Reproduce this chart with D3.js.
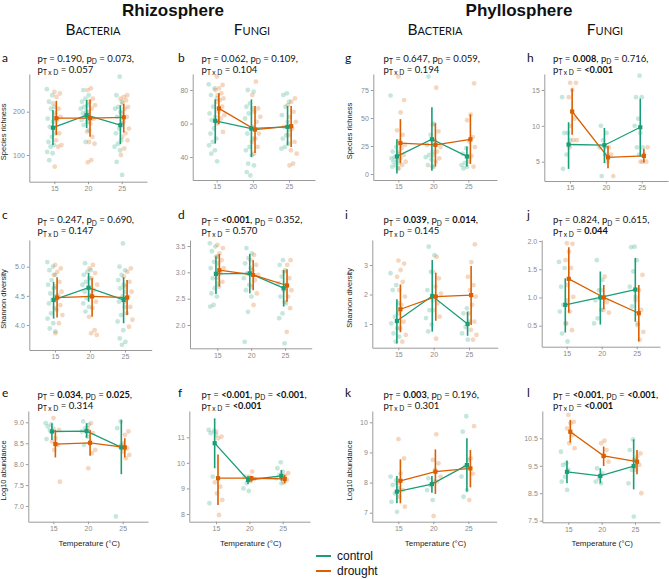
<!DOCTYPE html>
<html><head><meta charset="utf-8">
<script src="https://cdn.jsdelivr.net/npm/d3@7"></script>
<style>body{margin:0;background:#fff}</style>
</head><body>
<svg id="chart" width="669" height="579"></svg>
<script>
const temps = [15, 20, 25];
const groupNames = ["control", "drought"];
const groupColors = ["#1b9e77", "#d95f02"];

// ---- a: Rhizosphere bacteria, species richness
const aMean = [[163,192,169],[185,185,187]];
const aLow  = [[123,162,125],[146,142,152]];
const aHigh = [[204,227,215],[225,228,218]];
const aPoints = [
 [[252,238,223,211,207,184,177,165,150,142,130,123,119,107,104,88],
  [250,238,230,223,215,211,207,200,196,192,188,181,177,169,157,130],
  [281,238,223,211,207,200,188,173,161,150,134,126,119,111,84,54]],
 [[246,242,234,219,207,196,188,181,161,150,134,123,119,73],
  [254,250,230,223,215,207,200,184,173,154,142,130,126,88,83],
  [238,234,230,226,219,211,207,196,188,177,161,150,142,134,115,100]]];
const aTicks = [100, 200];
const aP = [["0.190",0],["0.073",0],["0.057",0]];

// ---- b: Rhizosphere fungi, species richness
const bMean = [[61.6,57,58],[69,56.4,58.4]];
const bLow  = [[48,40,47],[59.6,42.4,46]];
const bHigh = [[74.4,74.4,70.4],[78,70.4,70.4]];
const bPoints = [
 [[83.4,81,77,75,70,66,64,62,61,57,54,51,49,47,44,42,37.4],
  [80,79,72,70,69,66,63,57,54,51,46,44,41,36,35,29,31],
  [78,77,73,70,65,61,58,56,53,51,48,46,45]],
 [[88,83,81,80,78,77,75,74,73,70,67,65,63,60,55],
  [85,77,69,67,64,61,58,54,51,49,46,42],
  [75,73,71,67,64,61,57,53,49,44,42,36,35]]];
const bTicks = [40, 60, 80];
const bP = [["0.062",0],["0.109",0],["0.104",0]];

// ---- c: Rhizosphere bacteria, Shannon diversity
const cMean = [[4.43,4.64,4.43],[4.47,4.49,4.47]];
const cLow  = [[4.11,4.4,4.03],[4.13,4.14,4.17]];
const cHigh = [[4.74,4.89,4.82],[4.82,4.8,4.77]];
const cPoints = [
 [[5.08,5.0,4.94,4.86,4.77,4.69,4.63,4.54,4.49,4.43,4.37,4.29,4.2,4.11,4.03,3.94,3.89],
  [5.06,4.94,4.91,4.86,4.8,4.74,4.69,4.63,4.57,4.51,4.46,4.37,4.31,4.23],
  [5.4,5.0,4.94,4.86,4.77,4.69,4.63,4.57,4.49,4.4,4.31,4.17,4.06,3.91,3.77,3.71,3.66]],
 [[5.03,4.97,4.91,4.86,4.74,4.66,4.57,4.51,4.43,4.34,4.26,4.17,4.03,3.86],
  [5.03,4.97,4.89,4.8,4.69,4.6,4.49,4.4,4.29,4.14,3.91,3.86,3.83],
  [4.97,4.91,4.83,4.74,4.66,4.57,4.49,4.4,4.31,4.2,4.09,3.97]]];
const cTicks = [4.0, 4.5, 5.0];
const cP = [["0.247",0],["0.690",0],["0.147",0]];

// ---- d: Rhizosphere fungi, Shannon diversity
const dMean = [[2.97,2.98,2.7],[3.04,2.95,2.75]];
const dLow  = [[2.59,2.6,2.35],[2.73,2.66,2.44]];
const dHigh = [[3.3,3.35,3.04],[3.35,3.23,3.06]];
const dPoints = [
 [[3.55,3.49,3.4,3.3,3.2,3.08,2.98,2.89,2.79,2.7,2.6,2.54,2.38,2.35],
  [3.46,3.36,3.27,3.17,3.08,2.98,2.89,2.76,2.66,2.54,2.25,1.68],
  [3.23,3.14,3.04,2.92,2.79,2.66,2.54,2.41,2.22,2.13,1.65]],
 [[3.52,3.46,3.36,3.3,3.23,3.17,3.08,2.98,2.89,2.82,2.73],
  [3.33,3.23,3.14,3.04,2.95,2.85,2.73,2.6,2.38],
  [3.23,3.14,3.01,2.89,2.76,2.66,2.54,2.44,2.32,1.87]]];
const dTicks = [2.0, 2.5, 3.0, 3.5];
const dP = [["<0.001",1],["0.352",0],["0.570",0]];

// ---- e: Rhizosphere bacteria, Log10 abundance
const eMean = [[8.78,8.79,8.4],[8.48,8.51,8.4]];
const eLow  = [[8.58,8.63,7.76],[8.16,8.2,8.16]];
const eHigh = [[8.98,8.98,9.06],[8.82,8.82,8.62]];
const ePoints = [
 [[8.98,8.95,8.9,8.85,8.8,8.6],
  [9.02,8.94,8.86,8.78,8.66,8.46],
  [9.02,8.86,8.5,8.42,6.75]],
 [[9.1,8.82,8.62,8.54,8.46,8.34,7.58],
  [8.98,8.86,8.74,8.5,8.34,8.26,7.9],
  [8.78,8.7,8.46,8.38,8.3,8.22,8.14]]];
const eTicks = [7.0, 7.5, 8.0, 8.5, 9.0];
const eP = [["0.034",1],["0.025",1],["0.314",0]];

// ---- f: Rhizosphere fungi, Log10 abundance
const fMean = [[10.77,9.33,9.49],[9.4,9.4,9.37]];
const fLow  = [[9.79,9.17,9.3],[8.35,9.27,9.2]];
const fHigh = [[11.74,9.49,9.72],[10.33,9.49,9.53]];
const fPoints = [
 [[11.29,11.25,11.16,11.1,9.46,8.42],
  [9.46,9.33,9.2,9.0,8.9],
  [10.02,9.79,9.66,9.53,9.4,9.2]],
 [[11.22,11.03,10.96,9.24,9.07,8.81,8.55,7.96],
  [9.66,9.46,9.37,9.29],
  [9.6,9.5,9.4,9.33,9.24]]];
const fTicks = [8, 9, 10, 11];
const fP = [["<0.001",1],["<0.001",1],["<0.001",1]];

// ---- g: Phyllosphere bacteria, species richness
const gMean = [[15.7,31,15.7],[27.5,26,31]];
const gLow  = [[0.5,3,6.7],[9.7,6.7,9]];
const gHigh = [[31,59.6,24.6],[49,45.3,53.3]];
const gPoints = [
 [[70,24,20,18,15,14,12,11,9.5,8,6.5,5],
  [87,45,35,26,20,17,15,13,8,6.5],
  [23,18,15,10,8,6.5,5]],
 [[87,66,55,39,35,29,26,23,20,17,14,11,8,5],
  [77,44,38,30,24,20,17,14,11,6.5],
  [81,53,48,33,29,24,16,11,6.5]]];
const gTicks = [0, 25, 50, 75];
const gP = [["0.647",0],["0.059",0],["0.194",0]];

// ---- h: Phyllosphere fungi, species richness
const hMean = [[7.4,7.3,9.8],[12,5.6,5.8]];
const hLow  = [[4,4.8,5.7],[8.75,4.1,4.9]];
const hHigh = [[10.5,9.7,13.8],[15.2,7.2,6.8]];
const hPoints = [
 [[14,9,9,8,6,4],
  [10,9,8,7,6,3],
  [17,14,14,11,10,9,7,7,6]],
 [[16,16,15,14,11,10,8,8,7],
  [7,7,6,5,3],
  [7,6,5,5,5]]];
const hTicks = [5, 10, 15];
const hP = [["0.008",1],["0.716",0],["<0.001",1]];

// ---- i: Phyllosphere bacteria, Shannon diversity
const iMean = [[1.1,1.95,1.0],[1.5,1.93,1.98]];
const iLow  = [[0.34,0.74,0.6],[0.72,1.11,0.97]];
const iHigh = [[1.84,3.17,1.42],[2.34,2.74,2.97]];
const iPoints = [
 [[2.72,2.32,2.15,1.7,1.25,1.02,0.85,0.68,0.57,0.4],
  [3.62,3.33,2.77,2.15,1.8,1.47,1.2,0.98,0.75],
  [1.53,1.36,1.08,0.9,0.68,0.47]],
 [[3.15,3.05,2.83,2.6,2.43,2.15,1.93,1.65,1.36,1.08,0.85,0.63,0.4],
  [3.28,2.77,2.55,2.27,2.03,1.7,1.47,1.25,0.5],
  [3.7,3.1,2.6,2.32,2.15,1.93,1.65,1.36,1.08,0.8,0.63,0.47]]];
const iTicks = [1, 2, 3];
const iP = [["0.039",1],["0.014",1],["0.145",0]];

// ---- j: Phyllosphere fungi, Shannon diversity
const jMean = [[0.87,1.0,1.14],[1.33,1.0,0.72]];
const jLow  = [[0.38,0.52,0.57],[0.73,0.79,0.22]];
const jHigh = [[1.34,1.46,1.7],[1.89,1.22,1.22]];
const jPoints = [
 [[1.63,1.52,1.19,0.95,0.87,0.75,0.54,0.36,0.22],
  [1.66,1.31,1.13,0.95,0.78,0.63,0.54],
  [1.9,1.89,1.66,1.46,1.19,1.01,0.84,0.51]],
 [[1.96,1.95,1.81,1.66,1.52,1.22,1.01,0.75,0.54,0.42],
  [1.37,1.13,0.92,0.78,0.73],
  [1.4,1.13,0.95,0.78,0.54,0.39,0.25]]];
const jTicks = [0.5, 1.0, 1.5, 2.0];
const jP = [["0.824",0],["0.615",0],["0.044",1]];

// ---- k: Phyllosphere bacteria, Log10 abundance
const kMean = [[7.7,7.95,8.58],[8.06,8.36,8.47]];
const kLow  = [[7.31,7.66,7.7],[7.31,7.62,7.84]];
const kHigh = [[8.22,8.22,9.47],[8.77,9.1,9.08]];
const kPoints = [
 [[8.2,8.08,7.92,7.81,7.64,7.36,7.03],
  [8.14,8.03,7.92,7.75,7.42],
  [10.2,9.69,8.75,8.53,8.2,7.75,7.53]],
 [[9.44,8.8,8.3,7.97,7.75,7.53,7.2],
  [9.6,8.75,8.64,8.42,8.2,8.03,6.89],
  [9.87,8.8,8.53,8.3,7.42]]];
const kTicks = [7, 8, 9, 10];
const kP = [["0.003",1],["0.196",0],["0.301",0]];

// ---- l: Phyllosphere fungi, Log10 abundance
const lMean = [[9.28,9.13,9.49],[10.74,9.86,9.65]];
const lLow  = [[8.86,8.86,8.64],[10.34,9.49,9.19]];
const lHigh = [[9.69,9.41,10.46],[11.17,10.2,10.07]];
const lPoints = [
 [[10.01,9.59,9.53,9.35,9.1,8.92,8.62],
  [9.41,9.22,9.04,8.92,8.86],
  [10.46,10.07,9.71,9.35,8.86,7.65]],
 [[11.35,11.1,11.05,10.86,10.62,10.32,10.14],
  [10.41,10.32,10.07,9.83,9.65],
  [9.95,9.83,9.71,9.53,9.35,8.5]]];
const lTicks = [7.5, 8.5, 9.5, 10.5];
const lP = [["<0.001",1],["<0.001",1],["<0.001",1]];

const yTitles = ["Species richness", "Shannon diversity", "Log10 abundance"];
const xTitle = "Temperature (°C)";
const compTitles = ["Rhizosphere", "Phyllosphere"];
const kingdomTitles = ["Bacteria", "Fungi", "Bacteria", "Fungi"];

// ---------------- layout (pixel geometry) ----------------
const panels = [
 {id:"a",row:0,col:0,mean:aMean,lo:aLow,hi:aHigh,pts:aPoints,ticks:aTicks,p:aP,fmt:"d",  x0:29.3,x1:147, xt:[54.3,121.7],yb:181.7,yt:74,yp:[[200,111.7],[100,155]]},
 {id:"b",row:0,col:1,mean:bMean,lo:bLow,hi:bHigh,pts:bPoints,ticks:bTicks,p:bP,fmt:"d",  x0:192.7,x1:315,xt:[216.7,289],yb:180,yt:74,yp:[[80,90],[40,157]]},
 {id:"g",row:0,col:2,mean:gMean,lo:gLow,hi:gHigh,pts:gPoints,ticks:gTicks,p:gP,fmt:"d",  x0:373.3,x1:497,xt:[398.3,468.3],yb:180,yt:74,yp:[[75,90],[0,174]]},
 {id:"h",row:0,col:3,mean:hMean,lo:hLow,hi:hHigh,pts:hPoints,ticks:hTicks,p:hP,fmt:"d",  x0:544.3,x1:668,xt:[570,641.7],yb:181,yt:74,yp:[[15,90],[5,161.7]]},
 {id:"c",row:1,col:0,mean:cMean,lo:cLow,hi:cHigh,pts:cPoints,ticks:cTicks,p:cP,fmt:".1f",x0:29.3,x1:151.7,xt:[55,125],yb:350,yt:240,yp:[[5,266.7],[4,325]]},
 {id:"d",row:1,col:1,mean:dMean,lo:dLow,hi:dHigh,pts:dPoints,ticks:dTicks,p:dP,fmt:".1f",x0:190,x1:311.7,xt:[217.3,285],yb:348.3,yt:240,yp:[[3.5,246],[2,325]]},
 {id:"i",row:1,col:2,mean:iMean,lo:iLow,hi:iHigh,pts:iPoints,ticks:iTicks,p:iP,fmt:"d",  x0:372.3,x1:497.7,xt:[398.3,469],yb:347.7,yt:240,yp:[[3,265],[1,324]]},
 {id:"j",row:1,col:3,mean:jMean,lo:jLow,hi:jHigh,pts:jPoints,ticks:jTicks,p:jP,fmt:".1f",x0:541.7,x1:660,xt:[566.7,636.7],yb:346.7,yt:240,yp:[[2,241],[0.5,325.7]]},
 {id:"e",row:2,col:0,mean:eMean,lo:eLow,hi:eHigh,pts:ePoints,ticks:eTicks,p:eP,fmt:".1f",x0:28.3,x1:148,xt:[53.3,122.7],yb:521.7,yt:411,yp:[[9,422.3],[7,506]]},
 {id:"f",row:2,col:1,mean:fMean,lo:fLow,hi:fHigh,pts:fPoints,ticks:fTicks,p:fP,fmt:"d",  x0:189.3,x1:310,xt:[216,282.7],yb:521.7,yt:411,yp:[[11,437.3],[8,514]]},
 {id:"k",row:2,col:2,mean:kMean,lo:kLow,hi:kHigh,pts:kPoints,ticks:kTicks,p:kP,fmt:"d",  x0:372.3,x1:496.7,xt:[398.3,468.3],yb:521.7,yt:411,yp:[[10,422.3],[7,512.7]]},
 {id:"l",row:2,col:3,mean:lMean,lo:lLow,hi:lHigh,pts:lPoints,ticks:lTicks,p:lP,fmt:".1f",x0:542.3,x1:660,xt:[568.3,635],yb:522.3,yt:411,yp:[[10.5,438.3],[7.5,520.7]]}
];
const letterX = [2, 178, 345, 527];
const pTextX = [37.5, 201.5, 383.5, 553];
const rowText = [{l:61.5, b1:61.5, b2:72.6}, {l:218.5, b1:223.3, b2:234.3}, {l:396.5, b1:397.5, b2:408.6}];
const yTitleX = [6, null, 352, null];

const svg = d3.select("#chart");
const FONT_CAL = "Lato, 'Open Sans', sans-serif";
const FONT_AR = "'Liberation Sans', Arial, sans-serif";

// titles
[[173, 0], [519, 1]].forEach(([x, k]) => {
  svg.append("text").attr("x", x).attr("y", 15.6).attr("text-anchor", "middle")
    .attr("font-family", FONT_AR).attr("font-weight", "bold").attr("font-size", 17)
    .attr("fill", "#111").text(compTitles[k]);
});
[93, 252, 435, 605].forEach((x, k) => {
  svg.append("text").attr("x", x).attr("y", 34.5).attr("text-anchor", "middle")
    .attr("font-family", FONT_CAL).attr("font-size", 15.5).attr("font-variant", "small-caps")
    .attr("fill", "#111").text(kingdomTitles[k]);
});

function pLine(text, parts) {
  parts.forEach(pt => {
    const ts = text.append("tspan").text(pt.t);
    if (pt.dy) ts.attr("dy", pt.dy);
    if (pt.sub) ts.attr("font-size", 6.6);
    if (pt.b) ts.attr("font-weight", "bold").attr("font-size", 9.2);
  });
}

panels.forEach(P => {
  const g = svg.append("g");
  // scales
  const xs0 = d3.scaleLinear().domain([15, 25]).range(P.xt);
  const x = d3.scaleLinear().domain([xs0.invert(P.x0), xs0.invert(P.x1)]).range([P.x0, P.x1]);
  const ys0 = d3.scaleLinear().domain([P.yp[0][0], P.yp[1][0]]).range([P.yp[0][1], P.yp[1][1]]);
  const y = d3.scaleLinear().domain([ys0.invert(P.yb), ys0.invert(P.yt)]).range([P.yb, P.yt]);

  // axes
  const ax = g.append("g").attr("transform", `translate(0,${P.yb})`)
    .call(d3.axisBottom(x).tickValues(temps).tickSize(2.5).tickSizeOuter(0).tickPadding(2).tickFormat(d3.format("d")));
  const ay = g.append("g").attr("transform", `translate(${P.x0},0)`)
    .call(d3.axisLeft(y).tickValues(P.ticks).tickSize(2.5).tickSizeOuter(0).tickPadding(2).tickFormat(d3.format(P.fmt)));
  [ax, ay].forEach(a => {
    a.select(".domain").attr("stroke", "#9a9a9a").attr("stroke-width", 1);
    a.selectAll(".tick line").attr("stroke", "#9a9a9a");
    a.selectAll(".tick text").attr("fill", "#8a8a8a").attr("font-size", 7).attr("font-family", FONT_AR);
  });

  // jitter points
  const dodgeP = [-0.45, 0.45];
  P.pts.forEach((byT, gi) => {
    byT.forEach((vals, ti) => {
      g.append("g").selectAll("circle").data(vals).join("circle")
        .attr("cx", (d, i) => x(temps[ti] + dodgeP[gi] + (((i * 0.618034 + ti * 0.31 + gi * 0.17) % 1) - 0.5) * 1.3))
        .attr("cy", d => y(d))
        .attr("r", 2.4)
        .attr("fill", groupColors[gi]).attr("fill-opacity", 0.25);
    });
  });

  // mean lines, error bars, mean markers
  const dodgeM = [-0.2, 0.3];
  P.mean.forEach((m, gi) => {
    const line = d3.line().x((d, ti) => x(temps[ti] + dodgeM[gi])).y(d => y(d));
    g.append("path").attr("d", line(m)).attr("fill", "none")
      .attr("stroke", groupColors[gi]).attr("stroke-width", 1.3);
  });
  P.mean.forEach((m, gi) => {
    g.append("g").selectAll("line").data(m).join("line")
      .attr("x1", (d, ti) => x(temps[ti] + dodgeM[gi]))
      .attr("x2", (d, ti) => x(temps[ti] + dodgeM[gi]))
      .attr("y1", (d, ti) => y(P.lo[gi][ti]))
      .attr("y2", (d, ti) => y(P.hi[gi][ti]))
      .attr("stroke", groupColors[gi]).attr("stroke-width", 1.6);
    g.append("g").selectAll("rect").data(m).join("rect")
      .attr("x", (d, ti) => x(temps[ti] + dodgeM[gi]) - 2.1)
      .attr("y", d => y(d) - 2.1)
      .attr("width", 4.2).attr("height", 4.2)
      .attr("fill", groupColors[gi]);
  });

  // y title
  if (yTitleX[P.col] !== null) {
    const cy = (P.yb + P.yt) / 2 + 4;
    g.append("text").attr("transform", `translate(${yTitleX[P.col]},${cy}) rotate(-90)`)
      .attr("text-anchor", "middle").attr("font-family", FONT_AR).attr("font-size", 7.5)
      .attr("fill", "#222").text(yTitles[P.row]);
  }
  // x title
  if (P.row === 2) {
    g.append("text").attr("x", (P.x0 + P.x1) / 2 + 1).attr("y", 545.5).attr("text-anchor", "middle")
      .attr("font-family", FONT_AR).attr("font-size", 8).attr("fill", "#222").text(xTitle);
  }
  // panel letter
  const R = rowText[P.row];
  svg.append("text").attr("x", letterX[P.col]).attr("y", R.l)
    .attr("font-family", FONT_CAL).attr("font-size", 12).attr("fill", "#111").text(P.id);
  // p values
  const t1 = svg.append("text").attr("x", pTextX[P.col]).attr("y", R.b1)
    .attr("font-family", FONT_CAL).attr("font-size", 9.6).attr("fill", "#111");
  pLine(t1, [{t:"p"},{t:"T",dy:2.2,sub:1},{t:" = ",dy:-2.2},{t:P.p[0][0],b:P.p[0][1]},{t:", p"},
             {t:"D",dy:2.2,sub:1},{t:" = ",dy:-2.2},{t:P.p[1][0],b:P.p[1][1]},{t:","}]);
  const t2 = svg.append("text").attr("x", pTextX[P.col]).attr("y", R.b2)
    .attr("font-family", FONT_CAL).attr("font-size", 9.6).attr("fill", "#111");
  pLine(t2, [{t:"p"},{t:"T x D",dy:2.2,sub:1},{t:" = ",dy:-2.2},{t:P.p[2][0],b:P.p[2][1]}]);
});

// legend
const leg = svg.append("g");
groupNames.forEach((name, gi) => {
  const yy = 556 + gi * 15;
  leg.append("line").attr("x1", 316).attr("x2", 331).attr("y1", yy).attr("y2", yy)
    .attr("stroke", groupColors[gi]).attr("stroke-width", 2);
  leg.append("text").attr("x", 337).attr("y", yy + 4.2).attr("font-family", FONT_AR)
    .attr("font-size", 12).attr("fill", "#111").text(name);
});
</script>
</body></html>
